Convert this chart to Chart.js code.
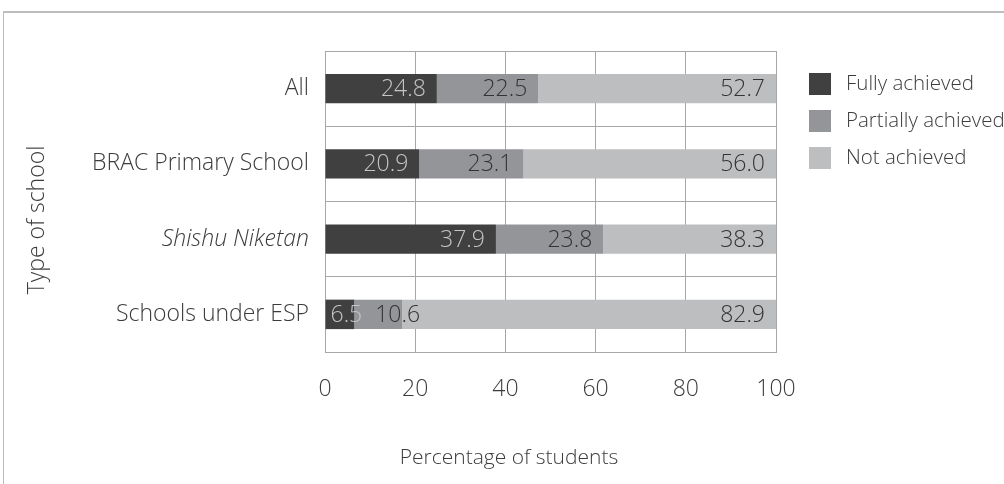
<!DOCTYPE html>
<html><head><meta charset="utf-8">
<script src="https://cdn.jsdelivr.net/npm/chart.js@4"></script>
<style>
html,body{margin:0;padding:0;background:#fff;}
#wrap{position:relative;width:1004px;height:484px;overflow:hidden;}
#frame{position:absolute;left:3px;top:11px;right:-2px;bottom:-2px;border-top:2px solid #bdbdbd;border-left:1px solid #bdbdbd;}
canvas{position:absolute;left:0;top:0;}
</style></head><body>
<div id="wrap"><div id="frame"></div><canvas id="c" width="1004" height="484"></canvas></div>
<script>
const categories = ['All', 'BRAC Primary School', 'Shishu Niketan', 'Schools under ESP'];
const italicCategories = ['Shishu Niketan'];
const fullyAchieved = [24.8, 20.9, 37.9, 6.5];
const partiallyAchieved = [22.5, 23.1, 23.8, 10.6];
const notAchieved = [52.7, 56.0, 38.3, 82.9];
const seriesNames = ['Fully achieved', 'Partially achieved', 'Not achieved'];
const xTicks = [0, 20, 40, 60, 80, 100];
const xTitle = 'Percentage of students';
const yTitle = 'Type of school';

const FAMILY = '"Open Sans", Roboto, "Liberation Sans", Arial, sans-serif';
const TEXT = '#3c3c3c';
const colors = ['#404041', '#939598', '#bcbec0'];

const valueLabels = {
  id: 'valueLabels',
  afterDatasetsDraw(chart) {
    const ctx = chart.ctx;
    ctx.save();
    ctx.font = '300 23px ' + FAMILY;
    ctx.textBaseline = 'middle';
    ctx.textAlign = 'left';
    chart.data.labels.forEach((lab, i) => {
      let prevRight = -Infinity;
      chart.data.datasets.forEach((ds, di) => {
        const el = chart.getDatasetMeta(di).data[i];
        const txt = ds.data[i].toFixed(1);
        const w = ctx.measureText(txt).width;
        let left = el.x - 11 - w;
        left = Math.max(left, el.base + 5, prevRight + 13);
        ctx.fillStyle = di === 0 ? '#c4c5c7' : '#333333';
        ctx.fillText(txt, left, el.y + 1);
        prevRight = left + w;
      });
    });
    ctx.restore();
  }
};

const decorations = {
  id: 'decorations',
  afterDraw(chart) {
    const ctx = chart.ctx;
    ctx.save();
    ctx.font = '300 20.5px ' + FAMILY;
    ctx.textBaseline = 'middle';
    ctx.textAlign = 'left';
    chart.data.datasets.forEach((ds, i) => {
      const cy = 84 + i * 37;
      ctx.fillStyle = ds.backgroundColor;
      ctx.fillRect(809, cy - 11, 22, 22);
      ctx.fillStyle = TEXT;
      ctx.fillText(ds.label, 846, cy);
    });
    ctx.font = '300 21px ' + FAMILY;
    ctx.textAlign = 'center';
    ctx.fillStyle = TEXT;
    ctx.fillText(xTitle, 509, 458);
    ctx.translate(37, 220);
    ctx.rotate(-Math.PI / 2);
    ctx.font = '300 23px ' + FAMILY;
    ctx.fillText(yTitle, 0, 0);
    ctx.restore();
  }
};

new Chart(document.getElementById('c'), {
  type: 'bar',
  data: {
    labels: categories,
    datasets: [
      { label: seriesNames[0], data: fullyAchieved, backgroundColor: colors[0] },
      { label: seriesNames[1], data: partiallyAchieved, backgroundColor: colors[1] },
      { label: seriesNames[2], data: notAchieved, backgroundColor: colors[2] }
    ]
  },
  options: {
    indexAxis: 'y',
    responsive: false,
    animation: false,
    layout: { padding: { top: 51, right: 228, left: 0, bottom: 0 } },
    datasets: { bar: { categoryPercentage: 0.8, barPercentage: 0.49, borderWidth: 0 } },
    plugins: { legend: { display: false }, tooltip: { enabled: false } },
    scales: {
      x: {
        stacked: true, min: 0, max: 100,
        afterBuildTicks: s => { s.ticks = xTicks.map(v => ({ value: v })); },
        afterFit: s => { s.height = 132; },
        grid: { color: '#a7a7a7', lineWidth: 1, drawTicks: false },
        border: { color: '#a7a7a7' },
        ticks: { padding: 24, color: TEXT, font: { family: FAMILY, size: 23, weight: 300 } }
      },
      y: {
        stacked: true,
        afterFit: s => { s.width = 325; },
        grid: { color: '#a7a7a7', lineWidth: 1, drawTicks: false, offset: true },
        border: { color: '#a7a7a7' },
        ticks: {
          padding: 16, color: TEXT,
          font: c => ({ family: FAMILY, size: 23, weight: 300,
            style: italicCategories.includes(categories[c.index]) ? 'italic' : 'normal' })
        }
      }
    }
  },
  plugins: [valueLabels, decorations]
});
</script>
</body></html>
